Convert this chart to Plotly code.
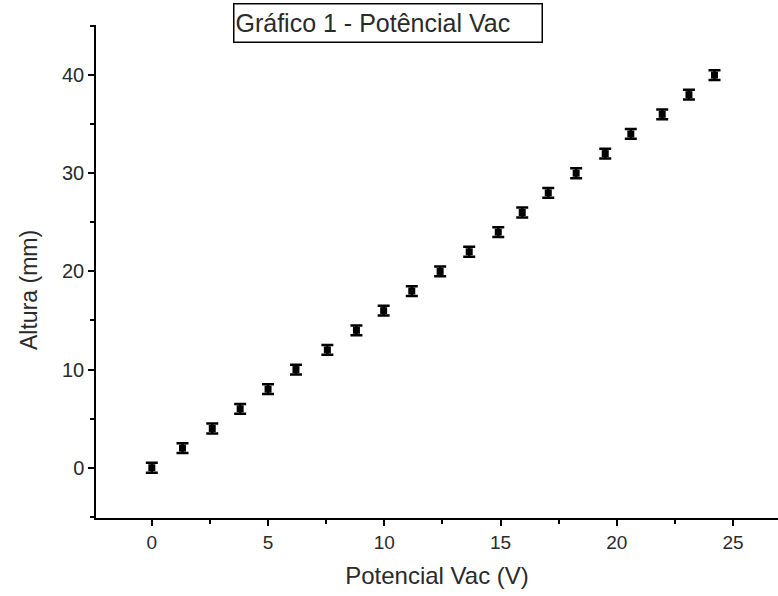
import plotly.graph_objects as go

# Measured potential (V) and corresponding height (mm)
potencial_v = [0.0, 1.32, 2.6, 3.8, 5.0, 6.2, 7.55, 8.8, 9.97, 11.18, 12.4,
               13.65, 14.9, 15.93, 17.05, 18.25, 19.5, 20.6, 21.95, 23.1, 24.2]
altura_mm = [0, 2, 4, 6, 8, 10, 12, 14, 16, 18, 20,
             22, 24, 26, 28, 30, 32, 34, 36, 38, 40]
erro_altura = [0.5] * len(altura_mm)

x_ticks = [0, 5, 10, 15, 20, 25]
y_ticks = [0, 10, 20, 30, 40]

FONT = "Liberation Sans, Arial, sans-serif"
TEXT = "#2a2a2a"

# plot-area geometry in pixels, used to place the free-floating texts
L, T, W, H = 96, 25, 682, 493
BOTTOM = T + H

fig = go.Figure()
fig.add_trace(go.Scatter(
    x=potencial_v,
    y=altura_mm,
    mode="markers",
    marker=dict(symbol="square", size=7, color="black",
                line=dict(color="black", width=0)),
    error_y=dict(type="data", array=erro_altura, visible=True,
                 color="black", thickness=2.5, width=6),
    showlegend=False,
))

fig.update_layout(
    width=778, height=596,
    margin=dict(l=L, r=778 - L - W, t=T, b=596 - BOTTOM),
    paper_bgcolor="white", plot_bgcolor="white",
    font=dict(family=FONT, color=TEXT),
    annotations=[
        dict(
            text="Gráfico 1 - Potêncial Vac",
            xref="paper", yref="paper",
            x=(233 - L) / W, y=(BOTTOM - 3) / H,
            xanchor="left", yanchor="top",
            width=305, height=35, align="left", valign="middle",
            showarrow=False,
            font=dict(family=FONT, size=25, color=TEXT),
            bordercolor="black", borderwidth=1.5, borderpad=1,
            bgcolor="white",
        ),
        dict(
            text="Altura (mm)",
            xref="paper", yref="paper",
            x=(29 - L) / W, y=(BOTTOM - 290) / H,
            xanchor="center", yanchor="middle",
            textangle=-90, showarrow=False,
            font=dict(family=FONT, size=23, color=TEXT),
        ),
    ],
)

fig.update_xaxes(
    range=[-2.4, 26.93],
    tickvals=x_ticks, ticktext=[str(v) for v in x_ticks],
    ticks="outside", ticklen=6, tickwidth=1.5, tickcolor="black",
    minor=dict(dtick=2.5, tick0=0, ticks="outside", ticklen=4,
               tickwidth=1.5, tickcolor="black"),
    showline=True, linecolor="black", linewidth=1.5,
    showgrid=False, zeroline=False,
    tickfont=dict(family=FONT, size=19, color=TEXT),
    title=dict(text="Potencial Vac (V)", standoff=16,
               font=dict(family=FONT, size=24, color=TEXT)),
)

fig.update_yaxes(
    range=[-5.12, 45.1],
    tickvals=y_ticks, ticktext=[str(v) for v in y_ticks],
    ticks="outside", ticklen=6, tickwidth=1.5, tickcolor="black",
    minor=dict(dtick=5, tick0=0, ticks="outside", ticklen=4,
               tickwidth=1.5, tickcolor="black"),
    showline=True, linecolor="black", linewidth=1.5,
    showgrid=False, zeroline=False,
    ticklabelstandoff=0,
    tickfont=dict(family=FONT, size=20, color=TEXT),
)

fig.write_html("out.html")
